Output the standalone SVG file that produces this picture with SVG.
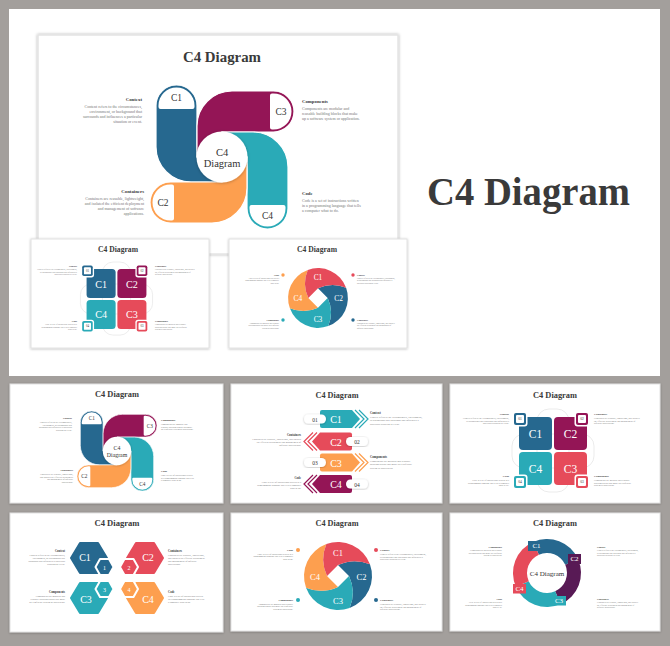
<svg xmlns="http://www.w3.org/2000/svg" xmlns:xlink="http://www.w3.org/1999/xlink" width="670" height="646" viewBox="0 0 670 646">
<defs>
<style>
.t{font-family:"Liberation Serif","DejaVu Serif",serif}
.ttl{font-family:"Liberation Serif","DejaVu Serif",serif;font-weight:bold;fill:#3a3a3a;text-anchor:middle}
.hd{font-weight:bold;fill:#3a3a3a;font-size:4.8px}
.pl{fill:#777;font-size:4px}
.lbl{font-family:"Liberation Serif","DejaVu Serif",serif;fill:#fff;text-anchor:middle;dominant-baseline:central}
.dk{font-family:"Liberation Serif","DejaVu Serif",serif;fill:#333;text-anchor:middle;dominant-baseline:central}
.slide{fill:#fff;stroke:#e2e2e2;stroke-width:1;filter:url(#sh)}
</style>
<filter id="sh" x="-10%" y="-10%" width="120%" height="120%"><feDropShadow dx="0" dy="0.6" stdDeviation="1.2" flood-color="#000" flood-opacity="0.28"/></filter>
<filter id="msh" x="-5%" y="-5%" width="110%" height="110%"><feDropShadow dx="0" dy="0" stdDeviation="1.8" flood-color="#000" flood-opacity="0.3"/></filter>
<filter id="csh" x="-30%" y="-30%" width="160%" height="160%"><feDropShadow dx="0" dy="0.5" stdDeviation="1.5" flood-color="#000" flood-opacity="0.3"/></filter>
<path id="arm" d="M-66,-51.5A20.5,20.5 0 0 1 -25,-51.5L-25,0L0,0L0,25L-31,25A35,35 0 0 1 -66,-10Z"/>
<path id="dome" d="M-63.5,-51.5A18,18 0 0 1 -27.5,-51.5L-27.5,-50Q-27.5,-48 -29.5,-48L-61.5,-48Q-63.5,-48 -63.5,-50Z"/>
<path id="seg" d="M0,-11Q16,-18.4 31.95,-11.63A34,34 0 0 1 11.63,31.95Q18.4,16 11,0Z"/>
<path id="rseg" d="M-13.83,-31.06A34,34 0 0 1 31.06,-13.83L18.27,-8.13A20,20 0 0 0 -8.13,-18.27Z"/>
<path id="hexB" d="M-18,0L-9,-15L9,-15L18,0L9,15L-9,15Z"/>
<path id="hexS" d="M-9,0L-4.5,-8L4.5,-8L9,0L4.5,8L-4.5,8Z"/>
<path id="ablock" d="M-14,-9H16L24,0L16,9H-14Q-16,9 -16,7V-7Q-16,-9 -14,-9Z"/>
<g id="achev" fill="none" stroke-width="1.2"><polyline points="19,-9 28,0 19,9"/><polyline points="23,-9 32,0 23,9"/></g>

<g id="pCtxN" class="t"><text class="hd">Context</text><text class="pl" y="7">Content refers to the circumstances,</text><text class="pl" y="11.9">environment, or background that</text><text class="pl" y="16.8">surrounds and influences a particular</text><text class="pl" y="21.7">situation or event.</text></g>
<g id="pCtxW" class="t"><text class="hd">Context</text><text class="pl" y="6.5">Context refers to the circumstances, environment,</text><text class="pl" y="11.3">or background that surrounds and influences a</text><text class="pl" y="16.1">particular situation or event.</text></g>
<g id="pConN" class="t"><text class="hd">Containers</text><text class="pl" y="7">Containers are reusable, lightweight,</text><text class="pl" y="11.9">and isolated the efficient deployment</text><text class="pl" y="16.8">and management of software</text><text class="pl" y="21.7">applications.</text></g>
<g id="pConW" class="t"><text class="hd">Containers</text><text class="pl" y="6.5">Containers are reusable, lightweight, and isolated</text><text class="pl" y="11.3">the efficient deployment and management of</text><text class="pl" y="16.1">software applications.</text></g>
<g id="pCmpN" class="t"><text class="hd">Components</text><text class="pl" y="7">Components are modular and</text><text class="pl" y="11.9">reusable building blocks that make</text><text class="pl" y="16.8">up a software system or application.</text></g>
<g id="pCmpW" class="t"><text class="hd">Components</text><text class="pl" y="6.5">Components are modular and reusable</text><text class="pl" y="11.3">building blocks that make up a software</text><text class="pl" y="16.1">system or application.</text></g>
<g id="pCodN" class="t"><text class="hd">Code</text><text class="pl" y="7">Code is a set of instructions written</text><text class="pl" y="11.9">in a programming language that tells</text><text class="pl" y="16.8">a computer what to do.</text></g>
<g id="pCodW" class="t"><text class="hd">Code</text><text class="pl" y="6.5">Code is a set of instructions written in a</text><text class="pl" y="11.3">programming language that tells a computer</text><text class="pl" y="16.1">what to do.</text></g>

<g id="pw">
<g stroke="#fff" stroke-width="1.2">
<use href="#arm" fill="#26688f"/>
<use href="#arm" fill="#941556" transform="rotate(90)"/>
<use href="#arm" fill="#2aaab7" transform="rotate(180)"/>
<use href="#arm" fill="#fd9f4f" transform="rotate(270)"/>
</g>
<g fill="#fff">
<use href="#dome"/>
<use href="#dome" transform="rotate(90)"/>
<use href="#dome" transform="rotate(180)"/>
<use href="#dome" transform="rotate(270)"/>
</g>
<circle r="25.5" fill="#fff" filter="url(#csh)"/>
<text class="dk" x="-45.5" y="-59" font-size="9.5">C1</text>
<text class="dk" x="59" y="-45.5" font-size="9.5">C3</text>
<text class="dk" x="45.5" y="59" font-size="9.5">C4</text>
<text class="dk" x="-59" y="45.5" font-size="9.5">C2</text>
<text class="dk" x="0" y="-5" font-size="10.5">C4</text>
<text class="dk" x="0" y="6.5" font-size="10.5">Diagram</text>
</g>

<g id="grid">
<rect x="-16" y="-42" width="32" height="83" rx="12" fill="none" stroke="#e6e6e6" stroke-width="0.8"/>
<rect x="-41" y="-17" width="82" height="34" rx="12" fill="none" stroke="#e6e6e6" stroke-width="0.8"/>
<rect x="-34" y="-34" width="33" height="33" rx="4" fill="#26688f"/>
<rect x="1" y="-34" width="33" height="33" rx="4" fill="#941556"/>
<rect x="-34" y="1" width="33" height="33" rx="4" fill="#2aaab7"/>
<rect x="1" y="1" width="33" height="33" rx="4" fill="#e64b5a"/>
<g fill="#fff">
<rect x="-40.5" y="-39.5" width="15" height="15" rx="3"/>
<rect x="21.5" y="-39.5" width="15" height="15" rx="3"/>
<rect x="-40.5" y="23.5" width="15" height="15" rx="3"/>
<rect x="21.5" y="23.5" width="15" height="15" rx="3"/>
</g>
<rect x="-39" y="-38" width="12" height="12" rx="2" fill="#26688f"/>
<rect x="23" y="-38" width="12" height="12" rx="2" fill="#941556"/>
<rect x="-39" y="25" width="12" height="12" rx="2" fill="#2aaab7"/>
<rect x="23" y="25" width="12" height="12" rx="2" fill="#e64b5a"/>
<g fill="#fff">
<rect x="-37" y="-36" width="8" height="8" rx="1"/>
<rect x="25" y="-36" width="8" height="8" rx="1"/>
<rect x="-37" y="27" width="8" height="8" rx="1"/>
<rect x="25" y="27" width="8" height="8" rx="1"/>
</g>
<text class="dk" x="-33" y="-32" font-size="3.6">01</text>
<text class="dk" x="29" y="-32" font-size="3.6">02</text>
<text class="dk" x="-33" y="31" font-size="3.6">04</text>
<text class="dk" x="29" y="31" font-size="3.6">03</text>
<text class="lbl" x="-17.5" y="-17" font-size="11.5">C1</text>
<text class="lbl" x="17.5" y="-17" font-size="11.5">C2</text>
<text class="lbl" x="-17.5" y="18" font-size="11.5">C4</text>
<text class="lbl" x="17.5" y="18" font-size="11.5">C3</text>
</g>

<g id="donut">
<use href="#seg" fill="#26688f"/>
<use href="#seg" fill="#2aaab7" transform="rotate(90)"/>
<use href="#seg" fill="#fd9f4f" transform="rotate(180)"/>
<use href="#seg" fill="#e64b5a" transform="rotate(270)"/>
<text class="lbl" x="0" y="-23.5" font-size="8.5">C1</text>
<text class="lbl" x="23.5" y="0.5" font-size="8.5">C2</text>
<text class="lbl" x="0" y="24.5" font-size="8.5">C3</text>
<text class="lbl" x="-23" y="0.5" font-size="8.5">C4</text>
</g>
</defs>

<rect width="670" height="646" fill="#a39f9c"/>
<rect x="9" y="9" width="651" height="367" fill="#fff"/>

<g id="main-slide">
<rect x="38" y="35" width="360" height="219" fill="#fff" stroke="#e4e4e4" stroke-width="1.5" filter="url(#msh)"/>
<text class="ttl" x="222" y="62" font-size="15" textLength="78" lengthAdjust="spacingAndGlyphs">C4 Diagram</text>
<use href="#pw" transform="translate(222,157)"/>
<use href="#pCtxN" transform="translate(142,101)" text-anchor="end"/>
<use href="#pConN" transform="translate(144,193)" text-anchor="end"/>
<use href="#pCmpN" transform="translate(302,103)" text-anchor="start"/>
<use href="#pCodN" transform="translate(302,195)" text-anchor="start"/>
</g>

<g id="mini-grid-slide">
<rect class="slide" x="31" y="239" width="178" height="109"/>
<text class="ttl" x="118" y="252" font-size="7.6" textLength="40" lengthAdjust="spacingAndGlyphs">C4 Diagram</text>
<use href="#grid" transform="translate(116.5,299) scale(0.88)"/>
<use href="#pCtxW" transform="translate(77,267) scale(0.5)" text-anchor="end"/>
<use href="#pConW" transform="translate(155,267) scale(0.5)" text-anchor="start"/>
<use href="#pCodW" transform="translate(77,322) scale(0.5)" text-anchor="end"/>
<use href="#pCmpW" transform="translate(155,322) scale(0.5)" text-anchor="start"/>
</g>

<g id="mini-donut-slide">
<rect class="slide" x="229" y="239" width="178" height="109"/>
<text class="ttl" x="317" y="252" font-size="7.6" textLength="40" lengthAdjust="spacingAndGlyphs">C4 Diagram</text>
<use href="#donut" transform="translate(318,298) scale(0.88)"/>
<circle cx="283" cy="275" r="1.7" fill="#fd9f4f"/>
<circle cx="283" cy="320" r="1.7" fill="#2aaab7"/>
<circle cx="353" cy="275" r="1.7" fill="#e64b5a"/>
<circle cx="353" cy="320" r="1.7" fill="#26688f"/>
<use href="#pCodW" transform="translate(279,276) scale(0.48)" text-anchor="end"/>
<use href="#pCmpW" transform="translate(279,321) scale(0.48)" text-anchor="end"/>
<use href="#pCtxW" transform="translate(357,276) scale(0.48)" text-anchor="start"/>
<use href="#pConW" transform="translate(357,321) scale(0.48)" text-anchor="start"/>
</g>

<text id="hero-title" class="ttl" x="528.5" y="205" font-size="39" textLength="203" lengthAdjust="spacingAndGlyphs">C4 Diagram</text>

<g id="slide-pinwheel">
<rect class="slide" x="10" y="384" width="213" height="119"/>
<text class="ttl" x="117" y="397" font-size="8.5" textLength="44" lengthAdjust="spacingAndGlyphs">C4 Diagram</text>
<use href="#pw" transform="translate(117,451) scale(0.556)"/>
<use href="#pCtxN" transform="translate(72,419) scale(0.56)" text-anchor="end"/>
<use href="#pConN" transform="translate(73,471) scale(0.56)" text-anchor="end"/>
<use href="#pCmpN" transform="translate(161,421) scale(0.56)" text-anchor="start"/>
<use href="#pCodN" transform="translate(161,472) scale(0.56)" text-anchor="start"/>
</g>

<g id="slide-arrows">
<rect class="slide" x="231" y="384" width="211" height="119"/>
<text class="ttl" x="337" y="398" font-size="8.5" textLength="43" lengthAdjust="spacingAndGlyphs">C4 Diagram</text>
<g transform="translate(336,419)"><use href="#ablock" fill="#2aaab7"/><use href="#achev" stroke="#2aaab7"/><rect x="-32" y="-4.5" width="22" height="9" rx="4.5" fill="#fff" filter="url(#sh)"/></g>
<g transform="translate(336,441.5) scale(-1,1)"><use href="#ablock" fill="#e64b5a"/><use href="#achev" stroke="#e64b5a"/><rect x="-32" y="-4.5" width="22" height="9" rx="4.5" fill="#fff" filter="url(#sh)"/></g>
<g transform="translate(336,462.5)"><use href="#ablock" fill="#fd9f4f"/><use href="#achev" stroke="#fd9f4f"/><rect x="-32" y="-4.5" width="22" height="9" rx="4.5" fill="#fff" filter="url(#sh)"/></g>
<g transform="translate(336,484) scale(-1,1)"><use href="#ablock" fill="#941556"/><use href="#achev" stroke="#941556"/><rect x="-32" y="-4.5" width="22" height="9" rx="4.5" fill="#fff" filter="url(#sh)"/></g>
<text class="lbl" x="336" y="419.5" font-size="10">C1</text>
<text class="lbl" x="336" y="442" font-size="10">C2</text>
<text class="lbl" x="336" y="463" font-size="10">C3</text>
<text class="lbl" x="336" y="484.5" font-size="10">C4</text>
<text class="dk" x="315" y="419.5" font-size="5.5">01</text>
<text class="dk" x="357" y="442" font-size="5.5">02</text>
<text class="dk" x="315" y="463" font-size="5.5">03</text>
<text class="dk" x="357" y="484.5" font-size="5.5">04</text>
<use href="#pCtxW" transform="translate(370,414) scale(0.66)" text-anchor="start"/>
<use href="#pConW" transform="translate(301,436) scale(0.62)" text-anchor="end"/>
<use href="#pCmpW" transform="translate(370,458) scale(0.66)" text-anchor="start"/>
<use href="#pCodW" transform="translate(301,479) scale(0.62)" text-anchor="end"/>
</g>

<g id="slide-grid">
<rect class="slide" x="450" y="384" width="210" height="119"/>
<text class="ttl" x="555" y="398" font-size="8.5" textLength="44" lengthAdjust="spacingAndGlyphs">C4 Diagram</text>
<use href="#grid" transform="translate(553,451)"/>
<use href="#pCtxW" transform="translate(509,415) scale(0.58)" text-anchor="end"/>
<use href="#pConW" transform="translate(594,415) scale(0.58)" text-anchor="start"/>
<use href="#pCodW" transform="translate(509,477) scale(0.58)" text-anchor="end"/>
<use href="#pCmpW" transform="translate(594,477) scale(0.58)" text-anchor="start"/>
</g>

<g id="slide-hexagons">
<rect class="slide" x="10" y="513" width="213" height="119"/>
<text class="ttl" x="117" y="526" font-size="8.5" textLength="45" lengthAdjust="spacingAndGlyphs">C4 Diagram</text>
<g stroke-linejoin="round" stroke-width="2">
<use href="#hexB" transform="translate(89,558)" fill="#26688f" stroke="#26688f"/>
<use href="#hexB" transform="translate(145,558)" fill="#e64b5a" stroke="#e64b5a"/>
<use href="#hexB" transform="translate(89,598)" fill="#2aaab7" stroke="#2aaab7"/>
<use href="#hexB" transform="translate(145,598)" fill="#fd9f4f" stroke="#fd9f4f"/>
<use href="#hexS" transform="translate(104.5,567)" fill="#26688f" stroke="#fff"/>
<use href="#hexS" transform="translate(129,567)" fill="#e64b5a" stroke="#fff"/>
<use href="#hexS" transform="translate(104.5,589)" fill="#2aaab7" stroke="#fff"/>
<use href="#hexS" transform="translate(129,589)" fill="#fd9f4f" stroke="#fff"/>
</g>
<text class="lbl" x="85" y="557" font-size="10">C1</text>
<text class="lbl" x="148" y="557" font-size="10">C2</text>
<text class="lbl" x="86" y="599" font-size="10">C3</text>
<text class="lbl" x="148" y="599" font-size="10">C4</text>
<text class="lbl" x="104.5" y="567.5" font-size="6">1</text>
<text class="lbl" x="129" y="567.5" font-size="6">2</text>
<text class="lbl" x="104.5" y="589.5" font-size="6">3</text>
<text class="lbl" x="129" y="589.5" font-size="6">4</text>
<use href="#pCtxN" transform="translate(65,552) scale(0.62)" text-anchor="end"/>
<use href="#pConN" transform="translate(168,552) scale(0.62)" text-anchor="start"/>
<use href="#pCmpN" transform="translate(65,593) scale(0.62)" text-anchor="end"/>
<use href="#pCodN" transform="translate(168,593) scale(0.62)" text-anchor="start"/>
</g>

<g id="slide-donut">
<rect class="slide" x="231" y="513" width="211" height="118"/>
<text class="ttl" x="337" y="526" font-size="8.5" textLength="43" lengthAdjust="spacingAndGlyphs">C4 Diagram</text>
<use href="#donut" transform="translate(338,576)"/>
<circle cx="298" cy="550" r="2" fill="#fd9f4f"/>
<circle cx="298" cy="600" r="2" fill="#2aaab7"/>
<circle cx="376" cy="550" r="2" fill="#e64b5a"/>
<circle cx="376" cy="600" r="2" fill="#26688f"/>
<use href="#pCodW" transform="translate(293,551) scale(0.56)" text-anchor="end"/>
<use href="#pCmpW" transform="translate(293,601) scale(0.56)" text-anchor="end"/>
<use href="#pCtxW" transform="translate(380,551) scale(0.58)" text-anchor="start"/>
<use href="#pConW" transform="translate(380,601) scale(0.58)" text-anchor="start"/>
</g>

<g id="slide-ring">
<rect class="slide" x="450" y="513" width="210" height="118"/>
<text class="ttl" x="555" y="526" font-size="8.5" textLength="44" lengthAdjust="spacingAndGlyphs">C4 Diagram</text>
<g transform="translate(547,573)">
<use href="#rseg" fill="#26688f"/>
<use href="#rseg" fill="#581a55" transform="rotate(90)"/>
<use href="#rseg" fill="#2aaab7" transform="rotate(180)"/>
<use href="#rseg" fill="#e64b5a" transform="rotate(270)"/>
<rect x="-19" y="-32" width="17" height="10" fill="#26688f"/>
<rect x="21" y="-19" width="13" height="10" fill="#581a55"/>
<rect x="5" y="23" width="14" height="9.5" fill="#2aaab7"/>
<rect x="-34" y="11" width="13" height="9.5" fill="#e64b5a"/>
<text class="lbl" x="-10.5" y="-27" font-size="7">C1</text>
<text class="lbl" x="27.5" y="-14" font-size="7">C2</text>
<text class="lbl" x="12" y="27.8" font-size="7">C3</text>
<text class="lbl" x="-27.5" y="15.8" font-size="7">C4</text>
<text class="dk" x="0" y="1" font-size="7">C4 Diagram</text>
</g>
<use href="#pCmpW" transform="translate(502,548) scale(0.52)" text-anchor="end"/>
<use href="#pCtxW" transform="translate(597,548) scale(0.52)" text-anchor="start"/>
<use href="#pCodW" transform="translate(502,600) scale(0.52)" text-anchor="end"/>
<use href="#pConW" transform="translate(597,600) scale(0.52)" text-anchor="start"/>
</g>
</svg>
